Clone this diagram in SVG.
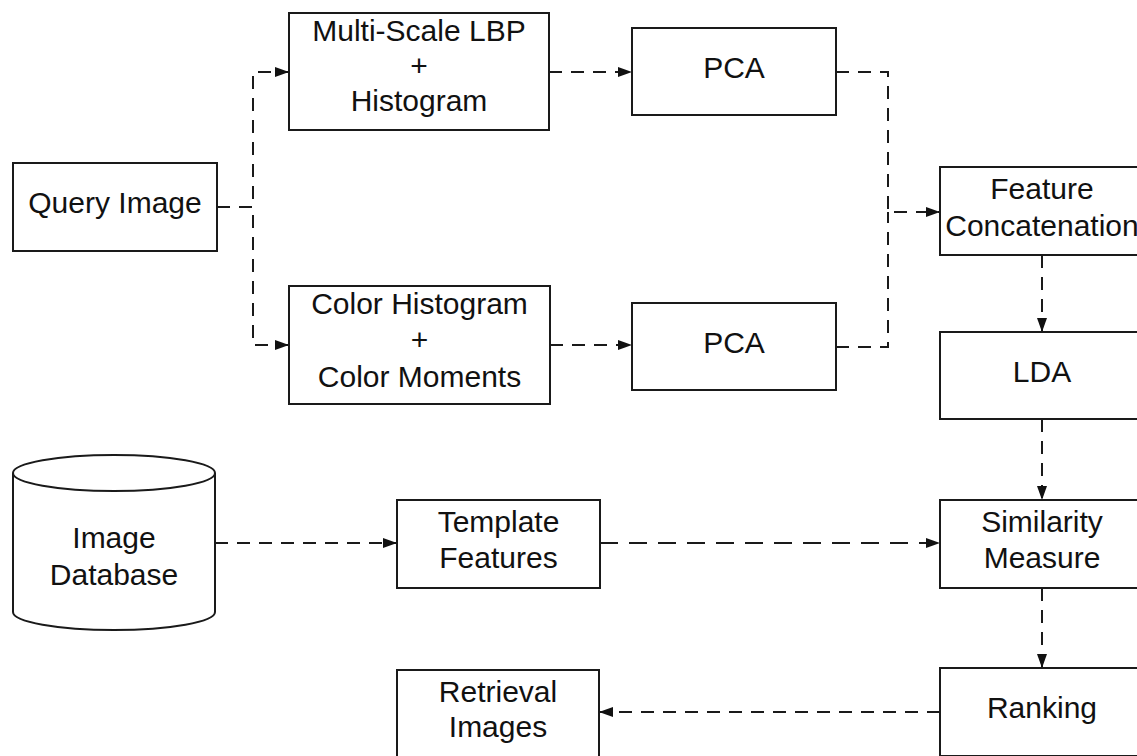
<svg xmlns="http://www.w3.org/2000/svg" width="1137" height="756" viewBox="0 0 1137 756">
  <style>
    .box { fill: #ffffff; stroke: #1a1a1a; stroke-width: 2; }
    .lbl { font-family: "Liberation Sans", Arial, sans-serif; font-size: 30px; fill: #111111; text-anchor: middle; }
    .edge { fill: none; stroke: #1a1a1a; stroke-width: 2; stroke-dasharray: 13 9; }
    .edge-long { stroke-dasharray: 18 11; }
  </style>
  <defs>
    <marker id="arrow" viewBox="0 0 14 10" refX="14" refY="5" markerWidth="14" markerHeight="10" markerUnits="userSpaceOnUse" orient="auto">
      <path d="M0,0 L14,5 L0,10 Z" fill="#111111"/>
    </marker>
  </defs>
  <rect width="1137" height="756" fill="#ffffff"/>

  <!-- connectors -->
  <g id="connectors">
    <path class="edge" d="M217,207 H253 V72 H289" marker-end="url(#arrow)"/>
    <path class="edge" d="M217,207 H253 V345 H289" marker-end="url(#arrow)"/>
    <path class="edge" d="M549,72 H632" marker-end="url(#arrow)"/>
    <path class="edge" d="M550,345 H632" marker-end="url(#arrow)"/>
    <path class="edge" d="M836,72 H888 V212 H940" marker-end="url(#arrow)"/>
    <path class="edge" d="M836,347 H888 V212"/>
    <path class="edge" d="M1042,255 V332" marker-end="url(#arrow)"/>
    <path class="edge" d="M1042,419 V500" marker-end="url(#arrow)"/>
    <path class="edge" d="M1042,588 V668" marker-end="url(#arrow)"/>
    <path class="edge" d="M215,543 H397" marker-end="url(#arrow)"/>
    <path class="edge edge-long" d="M600,543 H940" marker-end="url(#arrow)"/>
    <path class="edge" d="M940,712 H599" marker-end="url(#arrow)"/>
  </g>

  <g id="query-image">
    <rect class="box" x="13" y="163" width="204" height="88"/>
    <text class="lbl" x="115" y="213">Query Image</text>
  </g>

  <g id="lbp-histogram">
    <rect class="box" x="289" y="13" width="260" height="117"/>
    <text class="lbl" x="419" y="41">Multi-Scale LBP</text>
    <text class="lbl" x="419" y="76">+</text>
    <text class="lbl" x="419" y="111">Histogram</text>
  </g>

  <g id="color-features">
    <rect class="box" x="289" y="286" width="261" height="118"/>
    <text class="lbl" x="419.5" y="314">Color Histogram</text>
    <text class="lbl" x="419.5" y="350">+</text>
    <text class="lbl" x="419.5" y="387">Color Moments</text>
  </g>

  <g id="pca-top">
    <rect class="box" x="632" y="28" width="204" height="87"/>
    <text class="lbl" x="734" y="78">PCA</text>
  </g>

  <g id="pca-bottom">
    <rect class="box" x="632" y="303" width="204" height="87"/>
    <text class="lbl" x="734" y="353">PCA</text>
  </g>

  <g id="feature-concatenation">
    <rect class="box" x="940" y="167" width="204" height="88"/>
    <text class="lbl" x="1042" y="199">Feature</text>
    <text class="lbl" x="1042" y="236">Concatenation</text>
  </g>

  <g id="lda">
    <rect class="box" x="940" y="332" width="204" height="87"/>
    <text class="lbl" x="1042" y="382">LDA</text>
  </g>

  <g id="image-database">
    <path class="box" d="M13,473 A101,18 0 0 1 215,473 V612 A101,18 0 0 1 13,612 Z"/>
    <path class="box" fill="none" d="M13,473 A101,18 0 0 0 215,473"/>
    <text class="lbl" x="114" y="548">Image</text>
    <text class="lbl" x="114" y="585">Database</text>
  </g>

  <g id="template-features">
    <rect class="box" x="397" y="500" width="203" height="88"/>
    <text class="lbl" x="498.5" y="532">Template</text>
    <text class="lbl" x="498.5" y="568">Features</text>
  </g>

  <g id="similarity-measure">
    <rect class="box" x="940" y="500" width="204" height="88"/>
    <text class="lbl" x="1042" y="532">Similarity</text>
    <text class="lbl" x="1042" y="568">Measure</text>
  </g>

  <g id="ranking">
    <rect class="box" x="940" y="668" width="204" height="88"/>
    <text class="lbl" x="1042" y="718">Ranking</text>
  </g>

  <g id="retrieval-images">
    <rect class="box" x="397" y="670" width="202" height="88"/>
    <text class="lbl" x="498" y="702">Retrieval</text>
    <text class="lbl" x="498" y="737">Images</text>
  </g>
</svg>
